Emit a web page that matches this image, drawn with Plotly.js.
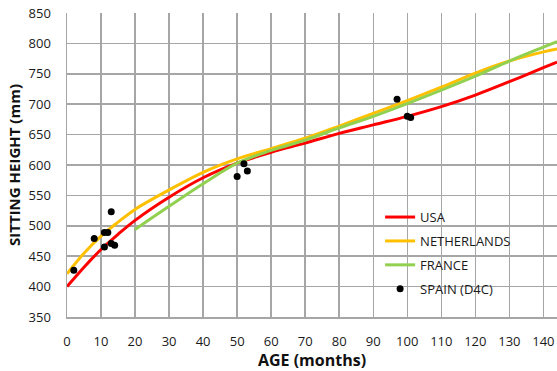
<!DOCTYPE html>
<html>
<head>
<meta charset="utf-8">
<script src="https://cdn.plot.ly/plotly-3.0.1.min.js"></script>
<style>
html,body{margin:0;padding:0;background:#fff;}
#chart{width:557px;height:371px;}
</style>
</head>
<body>
<div id="chart"></div>
<script>
// ---- data ----
const ageUSA = [0,5,10,15,20,30,40,50,60,70,80,90,100,110,120,130,140,144];
const usa    = [400,432,461,486,509,547,579,603,621,636,652,666,680,696,715,737,760,769];

const ageNL  = [0,5,10,15,20,30,40,50,60,70,80,90,100,110,120,130,140,144];
const netherlands = [421,455,483,506,527,559,588,610,627,644,664,685,706,728,751,771,786,791];

const ageFR  = [20,30,40,50,60,70,80,90,100,110,120,130,140,144];
const france = [494,532,569,603,624,641,661,680,701,723,746,771,794,803];

const ageES  = [2,8,11,12,11,13,13,14,50,52,53,97,100,101];
const spain  = [427,479,489,489,465,523,471,468,581,602,590,708,680,678];

const xTicks = [0,10,20,30,40,50,60,70,80,90,100,110,120,130,140];
const yTicks = [350,400,450,500,550,600,650,700,750,800,850];

const FONT = "'Open Sans', 'DejaVu Sans', sans-serif";
const GRID = "#a6a6a6";

const traces = [
  {x: ageUSA, y: usa, name: "USA", mode: "lines", type: "scatter",
   line: {color: "#ff0000", width: 3, shape: "spline"}, legendgroup: "a"},
  {x: ageNL, y: netherlands, name: "NETHERLANDS", mode: "lines", type: "scatter",
   line: {color: "#ffc000", width: 3, shape: "spline"}, legendgroup: "b"},
  {x: ageFR, y: france, name: "FRANCE", mode: "lines", type: "scatter",
   line: {color: "#92d050", width: 3, shape: "spline"}, legendgroup: "c"},
  {x: ageES, y: spain, name: "SPAIN (D4C)", mode: "markers", type: "scatter",
   marker: {color: "#000000", size: 7}, legendgroup: "d"}
];

const layout = {
  width: 557, height: 371,
  margin: {l: 67, r: 0, t: 13, b: 54, pad: 0},
  paper_bgcolor: "#ffffff", plot_bgcolor: "#ffffff",
  font: {family: FONT, size: 13, color: "#1a1a1a"},
  showlegend: true,
  legend: {
    x: 0.639, y: 0.378, xanchor: "left", yanchor: "top",
    bgcolor: "rgba(0,0,0,0)", borderwidth: 0,
    font: {family: FONT, size: 13, color: "#1a1a1a"},
    traceorder: "grouped", tracegroupgap: 4, itemwidth: 30
  },
  shapes: [{
    type: "rect", xref: "paper", yref: "paper", layer: "between",
    x0: 0.6145, x1: 0.953, y0: 0.055, y1: 0.368,
    fillcolor: "#ffffff", line: {width: 0}
  }],
  xaxis: {
    range: [0, 144], tickvals: xTicks, ticktext: xTicks.map(String),
    showgrid: true, gridcolor: GRID, gridwidth: 1.5,
    showline: true, linecolor: GRID, linewidth: 1.5,
    zeroline: false, ticks: "outside", ticklen: 12, tickcolor: "rgba(0,0,0,0)",
    tickfont: {family: FONT, size: 13, color: "#1a1a1a"},
    title: {text: "<b>AGE (months)</b>", font: {family: FONT, size: 16, color: "#111111"}, standoff: 6},
    fixedrange: true
  },
  yaxis: {
    range: [350, 850], tickvals: yTicks, ticktext: yTicks.map(String),
    showgrid: true, gridcolor: GRID, gridwidth: 1.5,
    showline: true, linecolor: GRID, linewidth: 1.5,
    zeroline: false, ticks: "outside", ticklen: 12, tickcolor: "rgba(0,0,0,0)",
    tickfont: {family: FONT, size: 13, color: "#1a1a1a"},
    title: {text: "<b>SITTING HEIGHT (mm)</b>", font: {family: FONT, size: 15, color: "#111111"}, standoff: 4},
    fixedrange: true
  }
};

Plotly.newPlot("chart", traces, layout, {staticPlot: true, displayModeBar: false});
</script>
</body>
</html>
